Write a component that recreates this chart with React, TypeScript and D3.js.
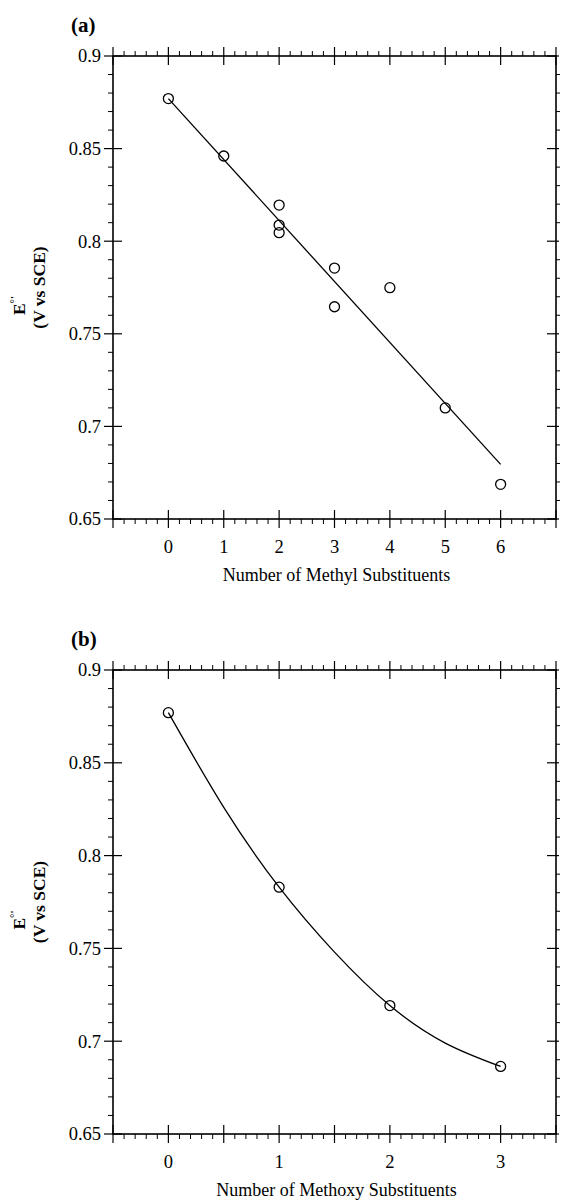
import { useEffect, useRef } from "react";
import * as d3 from "d3";

// panel (a): methyl substituents
const methylCount = [0, 1, 2, 2, 2, 3, 3, 4, 5, 6];
const methylE = [0.877, 0.846, 0.8195, 0.8087, 0.8046, 0.7855, 0.7646, 0.7749, 0.71, 0.6687];
const methylFitX = [0, 6];
const methylFitY = [0.877, 0.6795];
const methylTicks = [0, 1, 2, 3, 4, 5, 6];

// panel (b): methoxy substituents
const methoxyCount = [0, 1, 2, 3];
const methoxyE = [0.877, 0.783, 0.7192, 0.6864];
const methoxyFitX = [0, 0.5, 1, 1.5, 2, 2.5, 3];
const methoxyFitY = [0.877, 0.826, 0.783, 0.748, 0.7192, 0.699, 0.6864];
const methoxyTicks = [0, 1, 2, 3];

const yTickLabels = [0.65, 0.7, 0.75, 0.8, 0.85, 0.9];

const FONT = "'Liberation Serif', 'Times New Roman', serif";

type Panel = {
  tag: string;
  top: number;
  bottom: number;
  xDomain: [number, number];
  majorStep: number;
  minorStep: number;
  xTicks: number[];
  xTitle: string;
  px: number[];
  py: number[];
  fx: number[];
  fy: number[];
  curved: boolean;
};

function drawPanel(svg: any, p: Panel) {
  const left = 113;
  const right = 556;
  const x = d3.scaleLinear().domain(p.xDomain).range([left, right]);
  const y = d3.scaleLinear().domain([0.65, 0.9]).range([p.bottom, p.top]);
  const g = svg.append("g");

  const major = 9;
  const minor = 5;
  const line = (x1: number, y1: number, x2: number, y2: number, w = 1) =>
    g.append("line").attr("x1", x1).attr("y1", y1).attr("x2", x2).attr("y2", y2)
      .attr("stroke", "#000").attr("stroke-width", w);

  // frame
  g.append("rect").attr("x", left).attr("y", p.top).attr("width", right - left)
    .attr("height", p.bottom - p.top).attr("fill", "none").attr("stroke", "#000").attr("stroke-width", 1.6);

  // x ticks
  const nMinor = Math.round((p.xDomain[1] - p.xDomain[0]) / p.minorStep);
  const perMajor = Math.round(p.majorStep / p.minorStep);
  for (let i = 0; i <= nMinor; i++) {
    const v = p.xDomain[0] + i * p.minorStep;
    const xx = x(v);
    if (i % perMajor === 0) {
      line(xx, p.top - major, xx, p.top + major, 1.2);
      line(xx, p.bottom - major, xx, p.bottom + major, 1.2);
    } else {
      line(xx, p.top - minor, xx, p.top, 1);
      line(xx, p.bottom, xx, p.bottom + minor, 1);
    }
  }

  // y ticks
  for (let i = 0; i <= 25; i++) {
    const v = 0.65 + i * 0.01;
    const yy = y(v);
    if (i % 5 === 0) {
      line(left - major, yy, left + major, yy, 1.2);
      line(right - major, yy, right + 3, yy, 1.2);
    } else {
      line(left - minor, yy, left, yy, 1);
      line(right, yy, right + minor - 1, yy, 1);
    }
  }

  // tick labels
  g.selectAll(".yl").data(yTickLabels).join("text")
    .attr("x", 101).attr("y", (d: number) => y(d)).attr("dy", "0.35em")
    .attr("text-anchor", "end").attr("font-family", FONT).attr("font-size", 18.5)
    .text((d: number) => String(d));

  g.selectAll(".xl").data(p.xTicks).join("text")
    .attr("x", (d: number) => x(d)).attr("y", p.bottom + 34)
    .attr("text-anchor", "middle").attr("font-family", FONT).attr("font-size", 18.5)
    .text((d: number) => String(d));

  // titles
  g.append("text").attr("x", (left + right) / 2 + 2).attr("y", p.bottom + 62)
    .attr("text-anchor", "middle").attr("font-family", FONT).attr("font-size", 18)
    .text(p.xTitle);

  g.append("text").attr("x", 71).attr("y", p.top - 24)
    .attr("font-family", FONT).attr("font-size", 21).attr("font-weight", "bold")
    .text(p.tag);

  const cy = (p.top + p.bottom) / 2;
  const e = g.append("text").attr("transform", `translate(25,${cy + 18}) rotate(-90)`)
    .attr("text-anchor", "middle").attr("font-family", FONT).attr("font-size", 17.5)
    .attr("font-weight", "bold");
  e.append("tspan").text("E");
  e.append("tspan").attr("dy", -7).attr("font-size", 11).text("°'");
  g.append("text").attr("transform", `translate(45,${cy}) rotate(-90)`)
    .attr("text-anchor", "middle").attr("font-family", FONT).attr("font-size", 17.5)
    .attr("font-weight", "bold").text("(V vs SCE)");

  // fit
  const fit = d3.zip(p.fx, p.fy) as [number, number][];
  const gen = d3.line<[number, number]>().x((d) => x(d[0])).y((d) => y(d[1]))
    .curve(p.curved ? d3.curveNatural : d3.curveLinear);
  g.append("path").attr("d", gen(fit)).attr("fill", "none").attr("stroke", "#000").attr("stroke-width", 1.3);

  // points
  const pts = d3.zip(p.px, p.py) as [number, number][];
  g.selectAll(".pt").data(pts).join("circle")
    .attr("cx", (d: [number, number]) => x(d[0])).attr("cy", (d: [number, number]) => y(d[1]))
    .attr("r", 5).attr("fill", "none").attr("stroke", "#000").attr("stroke-width", 1.3);
}

export default function App() {
  const ref = useRef<SVGSVGElement>(null);
  useEffect(() => {
    if (!ref.current) return;
    const svg = d3.select(ref.current);
    svg.selectAll("*").remove();
    svg.append("rect").attr("width", 564).attr("height", 1201).attr("fill", "#fff");
    drawPanel(svg, {
      tag: "(a)", top: 56, bottom: 519, xDomain: [-1, 7], majorStep: 1, minorStep: 0.2,
      xTicks: methylTicks, xTitle: "Number of Methyl Substituents",
      px: methylCount, py: methylE, fx: methylFitX, fy: methylFitY, curved: false,
    });
    drawPanel(svg, {
      tag: "(b)", top: 670, bottom: 1134, xDomain: [-0.5, 3.5], majorStep: 0.5, minorStep: 0.1,
      xTicks: methoxyTicks, xTitle: "Number of Methoxy Substituents",
      px: methoxyCount, py: methoxyE, fx: methoxyFitX, fy: methoxyFitY, curved: true,
    });
  }, []);
  return (
    <svg ref={ref} width={564} height={1201}
      style={{ position: "absolute", left: 0, top: 0 }} />
  );
}
